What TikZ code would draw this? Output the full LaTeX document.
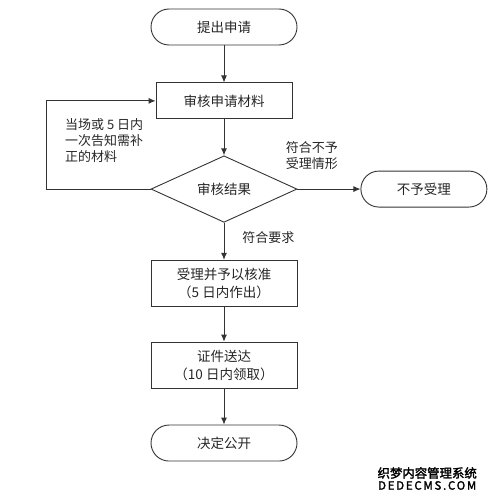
\documentclass[tikz,border=0pt]{standalone}
\usepackage{fontspec}
\setmainfont{Noto Sans CJK SC}
\newfontfamily\markfont[FakeBold=2]{Noto Sans CJK SC}
\usepackage{tikz}
\usetikzlibrary{shapes.geometric, arrows.meta, positioning}

\begin{document}
\begin{tikzpicture}[
    x=1pt, y=1pt,
    font=\fontsize{13.5}{18}\selectfont,
    term/.style={rectangle, draw=black!80, text=black!85, rounded corners=18pt, minimum width=146pt, minimum height=36pt, line width=0.9pt},
    block/.style={rectangle, draw=black!80, text=black!85, align=center, minimum width=146pt, minimum height=36pt, line width=0.9pt},
    decision/.style={diamond, draw=black!80, text=black!85, minimum width=146pt, minimum height=55pt, inner sep=0pt, line width=0.9pt},
    note/.style={align=left, text=black!85, font=\fontsize{13}{16}\selectfont, inner sep=0pt},
    line/.style={draw=black!80, -{Latex[length=7pt, width=6pt]}, line width=0.9pt}
]
    \useasboundingbox (0,0) rectangle (487,-500);

    \node [term] (apply) at (224,-27) {提出申请};
    \node [block, minimum width=136pt, below=37pt of apply] (review) {审核申请材料};
    \node [decision, below=36pt of review] (check) {审核结果};
    \node [term, minimum width=126pt, right=63pt of check] (reject) {不予受理};
    \node [block, minimum height=46pt, below=37pt of check] (accept) {受理并予以核准\\（5 日内作出）};
    \node [block, minimum height=46pt, below=35pt of accept] (deliver) {证件送达\\（10 日内领取）};
    \node [term, below=36pt of deliver] (done) {决定公开};

    \node [note, anchor=north west] (backnote) at (65,-118) {当场或 5 日内\\一次告知需补\\正的材料};

    \path [line] (apply) -- (review);
    \path [line] (review) -- (check);
    \path [line] (check) -- node [note, pos=0, anchor=south west, xshift=-12pt, yshift=19pt] {符合不予\\受理情形} (reject);
    \path [line] (check) -- node [note, right=18pt, yshift=4pt] {符合要求} (accept);
    \path [line] (check.west) -- ++(-104,0) |- (review.west);
    \path [line] (accept) -- (deliver);
    \path [line] (deliver) -- (done);

    % watermark
    \node [anchor=north east, align=center, inner sep=0pt, font=\markfont\fontsize{12.4}{13}\selectfont] (mark) at (477,-467) {织梦内容管理系统\\[-1pt]{\addfontfeature{LetterSpace=15}\fontsize{11.5}{12}\selectfont DEDECMS.COM}};
\end{tikzpicture}
\end{document}
